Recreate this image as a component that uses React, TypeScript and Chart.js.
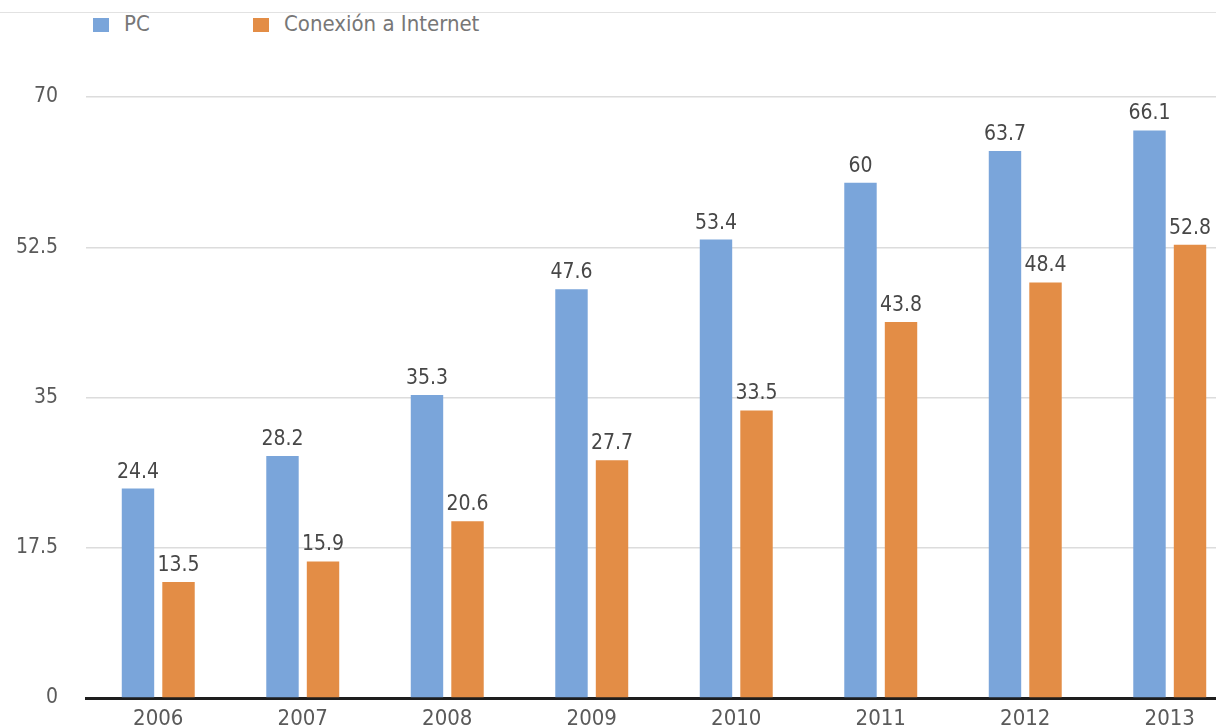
import React, { useEffect, useRef } from "react";
import { Chart, registerables } from "chart.js";

Chart.register(...registerables);

const years = ["2006", "2007", "2008", "2009", "2010", "2011", "2012", "2013"];
const pcValues = [24.4, 28.2, 35.3, 47.6, 53.4, 60, 63.7, 66.1];
const internetValues = [13.5, 15.9, 20.6, 27.7, 33.5, 43.8, 48.4, 52.8];
const seriesNames = ["PC", "Conexión a Internet"];
const seriesColors = ["#7aa5da", "#e38d46"];
const yTicks = [0, 17.5, 35, 52.5, 70];

const FONT = "'Liberation Sans Narrow', 'DejaVu Sans Condensed', 'Roboto', sans-serif";

const valueLabels = {
  id: "valueLabels",
  afterDatasetsDraw(chart: any) {
    const ctx = chart.ctx;
    ctx.save();
    ctx.font = `21px ${FONT}`;
    ctx.fillStyle = "#474747";
    ctx.textAlign = "center";
    ctx.textBaseline = "alphabetic";
    chart.data.datasets.forEach((ds: any, di: number) => {
      const meta = chart.getDatasetMeta(di);
      meta.data.forEach((bar: any, i: number) => {
        ctx.fillText(String(ds.data[i]), bar.x, bar.y - 11);
      });
    });
    ctx.restore();
  },
};

export default function App() {
  const ref = useRef<HTMLCanvasElement>(null);

  useEffect(() => {
    if (!ref.current) return;
    const chart = new Chart(ref.current, {
      type: "bar",
      data: {
        labels: years,
        datasets: [
          {
            label: seriesNames[0],
            data: pcValues,
            backgroundColor: seriesColors[0],
            categoryPercentage: 0.561,
            barPercentage: 0.8,
          },
          {
            label: seriesNames[1],
            data: internetValues,
            backgroundColor: seriesColors[1],
            categoryPercentage: 0.561,
            barPercentage: 0.8,
          },
        ],
      },
      options: {
        responsive: false,
        animation: false,
        devicePixelRatio: 1,
        layout: { padding: { top: 97, left: 0, right: 0, bottom: 0 } },
        plugins: {
          legend: { display: false },
          tooltip: { enabled: false },
        },
        scales: {
          x: {
            grid: { display: false, drawTicks: false },
            border: { display: true, color: "#1e1e1e", width: 3 },
            ticks: {
              padding: 8,
              color: "#5a5a5a",
              font: { family: FONT, size: 22 },
            },
            afterFit(scale: any) {
              scale.height = 42;
            },
          },
          y: {
            min: 0,
            max: 70,
            afterBuildTicks(scale: any) {
              scale.ticks = yTicks.map((v) => ({ value: v }));
            },
            grid: {
              drawTicks: false,
              color: (c: any) => (c.tick && c.tick.value === 0 ? "rgba(0,0,0,0)" : "#dcdcdc"),
              lineWidth: 1.5,
            },
            border: { display: false },
            ticks: {
              padding: 28,
              color: "#5a5a5a",
              font: { family: FONT, size: 21 },
            },
            afterFit(scale: any) {
              scale.width = 86;
            },
          },
        },
      },
      plugins: [valueLabels],
    });
    return () => chart.destroy();
  }, []);

  return (
    <div
      style={{
        position: "fixed",
        left: 0,
        top: 0,
        width: 1216,
        height: 725,
        overflow: "hidden",
        background: "#ffffff",
        fontFamily: FONT,
      }}
    >
      <div style={{ position: "absolute", left: 0, top: 12, width: 1216, height: 1, background: "#e2e2e2" }} />
      {seriesNames.map((name, i) => (
        <div
          key={name}
          style={{
            position: "absolute",
            left: i === 0 ? 93 : 253,
            top: 13,
            height: 22,
            lineHeight: "22px",
            fontSize: 22,
            color: "#777777",
            whiteSpace: "nowrap",
          }}
        >
          <span
            style={{
              display: "inline-block",
              width: 16,
              height: 14,
              background: seriesColors[i],
              marginRight: 15,
              verticalAlign: "-1px",
            }}
          />
          {name}
        </div>
      ))}
      <canvas
        ref={ref}
        width={1242}
        height={740}
        style={{ position: "absolute", left: 0, top: 0, width: 1242, height: 740 }}
      />
    </div>
  );
}
